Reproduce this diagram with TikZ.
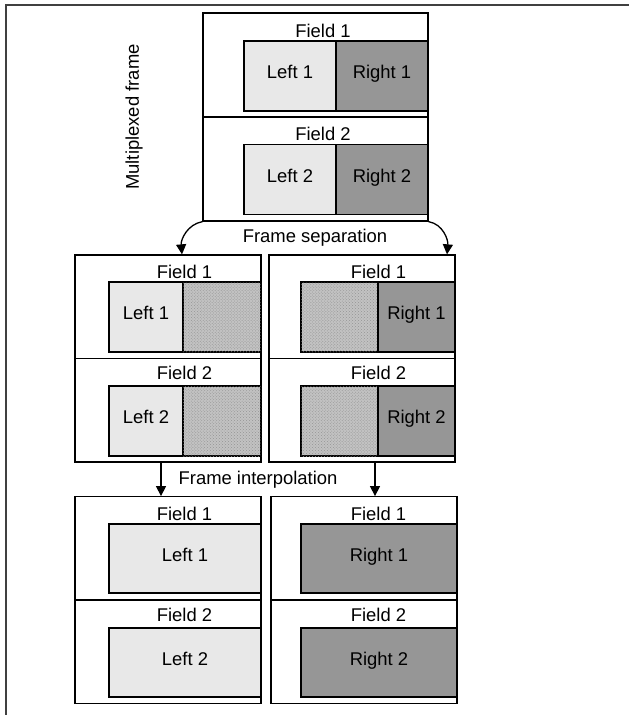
\documentclass[tikz,border=0pt]{standalone}
\usepackage{fontspec}
\setmainfont{Liberation Sans}
\usetikzlibrary{positioning,arrows.meta,patterns}

\tikzset{
  field/.style={draw,line width=1.3bp,minimum width=186bp,minimum height=103.5bp,inner sep=0pt},
  fieldlabel/.style={inner sep=0pt},
  leftpart/.style={draw,line width=1.3bp,fill=black!9,minimum height=70bp,inner sep=0pt,text height=0.72em,text depth=0.2em},
  rightpart/.style={draw,line width=1.3bp,fill=black!41,minimum height=70bp,inner sep=0pt,text height=0.72em,text depth=0.2em},
  blanked/.style={draw,line width=1.3bp,fill=black!24,postaction={pattern=crosshatch dots,pattern color=black!42},minimum height=70bp,inner sep=0pt},
}

\begin{document}
\begin{tikzpicture}[x=1bp,y=-1bp,font=\fontsize{18.5}{21}\selectfont,>={Triangle[length=10bp,width=10bp]}]
\useasboundingbox (0,0) rectangle (629,715);
\draw[line width=1.6bp,black!75] (629,5) -- (6,5) -- (6,715);

% multiplexed frame
\node[field,minimum width=225bp,minimum height=104bp] (t1) at (315.5,65) {};
\node[field,minimum width=225bp,minimum height=104bp] (t2) at (315.5,169) {};
\node[fieldlabel] (tf1) at (323,30.5) {Field 1};
\node[fieldlabel] (tf2) at (323,134) {Field 2};
\node[leftpart,minimum width=92bp] (t1l) at (290,76) {Left 1};
\node[rightpart,minimum width=92bp] (t1r) at (382,76) {Right 1};
\node[leftpart,minimum width=92bp] (t2l) at (290,179.5) {Left 2};
\node[rightpart,minimum width=92bp] (t2r) at (382,179.5) {Right 2};
\node[rotate=90] (mux) at (134,117) {Multiplexed frame};

% separated frames
\node[field] (ml1) at (168,306.75) {};
\node[field] (ml2) at (168,410.25) {};
\node[fieldlabel] (mlf1) at (184.5,271.5) {Field 1};
\node[fieldlabel] (mlf2) at (184.5,373) {Field 2};
\node[leftpart,minimum width=74bp] (ml1l) at (146,317) {Left 1};
\node[blanked,minimum width=78bp] (ml1r) at (222,317) {};
\node[leftpart,minimum width=74bp] (ml2l) at (146,421) {Left 2};
\node[blanked,minimum width=78bp] (ml2r) at (222,421) {};

\node[field] (mr1) at (362,306.75) {};
\node[field] (mr2) at (362,410.25) {};
\node[fieldlabel] (mrf1) at (378.5,271.5) {Field 1};
\node[fieldlabel] (mrf2) at (378.5,373) {Field 2};
\node[blanked,minimum width=77bp] (mr1l) at (339.5,317) {};
\node[rightpart,minimum width=77bp] (mr1r) at (416.5,317) {Right 1};
\node[blanked,minimum width=77bp] (mr2l) at (339.5,421) {};
\node[rightpart,minimum width=77bp] (mr2r) at (416.5,421) {Right 2};

% interpolated frames
\node[field] (bl1) at (168,548.5) {};
\node[field] (bl2) at (168,651.5) {};
\node[fieldlabel] (blf1) at (184.5,513.5) {Field 1};
\node[fieldlabel] (blf2) at (184.5,615) {Field 2};
\node[leftpart,minimum width=152bp,minimum height=69bp] (bl1l) at (185,558.5) {Left 1};
\node[leftpart,minimum width=152bp,minimum height=69bp] (bl2l) at (185,662.5) {Left 2};

\node[field] (br1) at (364,548.5) {};
\node[field] (br2) at (364,651.5) {};
\node[fieldlabel] (brf1) at (378.5,513.5) {Field 1};
\node[fieldlabel] (brf2) at (378.5,615) {Field 2};
\node[rightpart,minimum width=156bp,minimum height=69bp] (br1r) at (379,558.5) {Right 1};
\node[rightpart,minimum width=156bp,minimum height=69bp] (br2r) at (379,662.5) {Right 2};

% steps
\node (sep) at (315,238) {Frame separation};
\node (interp) at (258,480) {Frame interpolation};
\draw[->,line width=1.3bp] (t2.south west) to[out=190,in=95] ([xshift=14bp]ml1.north);
\draw[->,line width=1.3bp] (t2.south east) to[out=-10,in=85] ([xshift=85bp]mr1.north);
\draw[->,line width=1.3bp] ([xshift=-7bp]ml2.south) -- ([xshift=-7bp]bl1.north);
\draw[->,line width=1.3bp] ([xshift=13bp]mr2.south) -- ([xshift=13bp]mr2.south |- br1.north);
\end{tikzpicture}
\end{document}
